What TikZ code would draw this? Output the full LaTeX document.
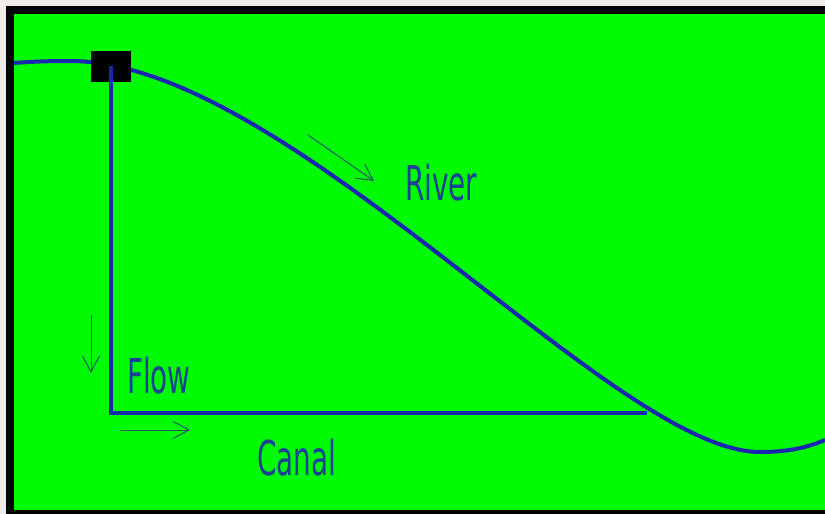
\documentclass[tikz,border=0pt]{standalone}
\usepackage{fontspec}
\newfontfamily\narrowfont[FakeStretch=0.58]{DejaVu Sans}
\usetikzlibrary{arrows.meta}
\definecolor{fieldgreen}{RGB}{0,250,0}
\definecolor{waterblue}{RGB}{25,40,175}
\definecolor{inkblue}{RGB}{25,65,150}
\definecolor{arrowteal}{RGB}{30,90,100}
\definecolor{paper}{RGB}{240,236,234}

\begin{document}
\begin{tikzpicture}[
    x=1pt, y=-1pt,
    water/.style={draw=waterblue, line width=4pt},
    flowarrow/.style={-{Straight Barb[length=16pt,width=17pt]}, draw=arrowteal, line width=1pt},
    tag/.style={text=inkblue, font=\narrowfont\fontsize{48}{48}\selectfont, inner sep=0pt, anchor=base west}
]
  % background and frame
  \useasboundingbox (0,0) rectangle (825,514);
  \fill[paper] (0,0) rectangle (825,514);
  \fill[black] (6,6) rectangle (825,514);
  \fill[fieldgreen] (14,14) rectangle (825,510);

  % river
  \coordinate (crest) at (70,61);
  \coordinate (trough) at (760,452);
  \draw[water] (14,63) .. controls (32,61.5) and (52,61) .. (crest)
    .. controls (288,61) and (614,452) .. (trough)
    .. controls (790,452) and (808,447) .. (825,440);

  % gate and canal
  \node (gate) [fill=black, minimum width=40pt, minimum height=31pt, inner sep=0pt] at (111,66) {};
  \coordinate (mouth) at (647,413);
  \draw[water] (gate.center) |- (mouth);

  % flow arrows
  \coordinate (flowtop) at (91,315);
  \coordinate (flowtip) at (91,373);
  \coordinate (canalstart) at (120,430);
  \coordinate (canaltip) at (190,430);
  \coordinate (riverstart) at (308,135);
  \coordinate (rivertip) at (374,181);
  \draw[flowarrow] (flowtop) -- (flowtip);
  \draw[flowarrow] (canalstart) -- (canaltip);
  \draw[flowarrow] (riverstart) -- (rivertip);

  % labels
  \node (flow) [tag] at (127,393) {Flow};
  \node (canal) [tag] at (257,475) {Canal};
  \node (river) [tag] at (405,200) {River};
\end{tikzpicture}
\end{document}
